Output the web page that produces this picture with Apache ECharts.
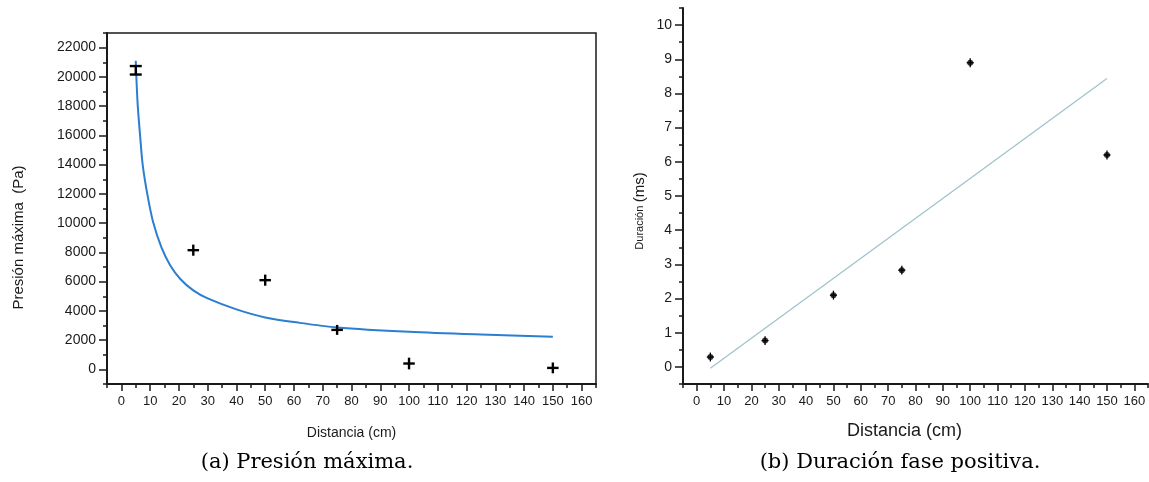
<!DOCTYPE html>
<html>
<head>
<meta charset="utf-8">
<title>Presión y duración</title>
<script src="https://cdn.jsdelivr.net/npm/echarts@6/dist/echarts.min.js"></script>
<style>
  html, body { margin: 0; padding: 0; background: #fff; }
  #chart { width: 1149px; height: 482px; }
</style>
</head>
<body>
<div id="chart"></div>
<script type="text/javascript">
// (a) presión máxima: medidas y errores
var presX = [5, 25, 50, 75, 100, 150];
var presY = [20450, 8150, 6100, 2700, 400, 100];
var presErrX = [0, 2, 2, 2, 2, 2];
var presErrY = [290, 380, 380, 340, 400, 370];
// curva de ajuste
var fitPresX = [5, 5.2, 5.7, 6.5, 7.4, 9, 11, 14, 17, 20.4, 25, 30, 40, 50, 62, 75, 100, 125, 150];
var fitPresY = [21100, 20000, 18000, 16000, 14000, 12000, 10100, 8300, 7100, 6200, 5400, 4850, 4100, 3550, 3180, 2870, 2570, 2380, 2230];

// (b) duración fase positiva
var durX = [5, 25, 50, 75, 100, 150];
var durY = [0.29, 0.77, 2.1, 2.83, 8.9, 6.2];
var durErrX = [1.3, 1.3, 1.3, 1.3, 1.3, 1.3];
var durErrY = [0.13, 0.13, 0.13, 0.13, 0.13, 0.13];
var fitDurX = [5, 150];
var fitDurY = [-0.04, 8.44];

// ticks
var distTicks = [0, 10, 20, 30, 40, 50, 60, 70, 80, 90, 100, 110, 120, 130, 140, 150, 160];
var presTicks = [0, 2000, 4000, 6000, 8000, 10000, 12000, 14000, 16000, 18000, 20000, 22000];
var durTicks = [0, 1, 2, 3, 4, 5, 6, 7, 8, 9, 10];

function minors(t){
  var step = t[1] - t[0], out = [t[0] - step / 2];
  for (var i = 0; i < t.length; i++) out.push(t[i] + step / 2);
  return out;
}
function pairs(a, b){ return a.map(function(v, i){ return [v, b[i]]; }); }
function quads(a, b, c, d){ return a.map(function(v, i){ return [v, b[i], c[i], d[i]]; }); }

var ink = '#1a1a1a';
var font = 'Liberation Sans, Arial, sans-serif';

// main axis: line + labels
function mainAxis(kind, grid, t, min, max, fs){
  return {type:'value', gridIndex:grid, min:min, max:max, position:kind == 'x' ? 'bottom' : 'left',
    axisLine:{show:true, onZero:false, lineStyle:{color:ink, width:2}},
    axisTick:{show:false},
    axisLabel:{customValues:t, margin:11, color:ink, fontSize:fs, fontFamily:font,
      formatter:function(v){ return String(v); }},
    splitLine:{show:false}};
}
// tick-only overlay
function tickAxis(kind, grid, vals, min, max, len){
  return {type:'value', gridIndex:grid, min:min, max:max, position:kind == 'x' ? 'bottom' : 'left',
    axisLine:{show:false, onZero:false}, axisLabel:{show:false}, splitLine:{show:false},
    axisTick:{show:true, customValues:vals, length:len, lineStyle:{color:ink, width:1.5}}};
}

function errBars(lw, capW){
  return function(params, api){
    var x = api.value(0), y = api.value(1), dx = api.value(2), dy = api.value(3);
    var top = api.coord([x, y + dy]), bot = api.coord([x, y - dy]);
    var st = {stroke:'#000', lineWidth:lw};
    var kids = [{type:'line', shape:{x1:top[0], y1:top[1], x2:bot[0], y2:bot[1]}, style:st}];
    if (dx > 0) {
      var l = api.coord([x - dx, y]), r = api.coord([x + dx, y]);
      kids.push({type:'line', shape:{x1:l[0], y1:l[1], x2:r[0], y2:r[1]}, style:st});
    } else {
      kids.push({type:'line', shape:{x1:top[0]-capW, y1:top[1], x2:top[0]+capW, y2:top[1]}, style:st});
      kids.push({type:'line', shape:{x1:bot[0]-capW, y1:bot[1], x2:bot[0]+capW, y2:bot[1]}, style:st});
    }
    return {type:'group', children:kids};
  };
}

var xa0 = mainAxis('x', 0, distTicks, -5, 165, 13);
xa0.name = 'Distancia (cm)';
xa0.nameLocation = 'middle';
xa0.nameGap = 42;
xa0.nameTextStyle = {color:ink, fontSize:14, fontFamily:font};

var ya0 = mainAxis('y', 0, presTicks, -1000, 23000, 14);
ya0.name = 'Presión máxima  (Pa)';
ya0.nameLocation = 'middle';
ya0.nameGap = 81;
ya0.nameTextStyle = {color:ink, fontSize:15, fontFamily:font, padding:[0, 58, 0, 0]};

var xa1 = mainAxis('x', 1, distTicks, -5, 165, 13);
xa1.name = 'Distancia (cm)';
xa1.nameLocation = 'middle';
xa1.nameGap = 38;
xa1.nameTextStyle = {color:ink, fontSize:18, fontFamily:font, padding:[0, 22, 0, 0]};

var ya1 = mainAxis('y', 1, durTicks, -0.5, 10.5, 14);
ya1.name = '{a|Duración} {b|(ms)}';
ya1.nameLocation = 'middle';
ya1.nameGap = 36;
ya1.nameTextStyle = {color:ink, fontFamily:font, padding:[0, 30, 0, 0],
  rich:{a:{fontSize:11, fontFamily:font, color:ink}, b:{fontSize:15, fontFamily:font, color:ink}}};

var chart = echarts.init(document.getElementById('chart'));
var option = {
  animation:false,
  backgroundColor:'#fff',
  grid:[
    {left:107, right:553, top:33, bottom:98, show:true, borderColor:ink, borderWidth:1.5, backgroundColor:'transparent'},
    {left:683, right:1, top:8, bottom:98}
  ],
  xAxis:[
    xa0,
    tickAxis('x', 0, distTicks, -5, 165, 7),
    tickAxis('x', 0, minors(distTicks), -5, 165, 4),
    xa1,
    tickAxis('x', 1, distTicks, -5, 165, 7),
    tickAxis('x', 1, minors(distTicks), -5, 165, 4)
  ],
  yAxis:[
    ya0,
    tickAxis('y', 0, presTicks, -1000, 23000, 8),
    tickAxis('y', 0, minors(presTicks), -1000, 23000, 4),
    ya1,
    tickAxis('y', 1, durTicks, -0.5, 10.5, 8),
    tickAxis('y', 1, minors(durTicks), -0.5, 10.5, 4)
  ],
  series:[
    {type:'line', xAxisIndex:0, yAxisIndex:0, data:pairs(fitPresX, fitPresY), smooth:0.3,
      showSymbol:false, lineStyle:{color:'#2a7fd2', width:2}, z:2},
    {type:'custom', xAxisIndex:0, yAxisIndex:0, data:quads(presX, presY, presErrX, presErrY),
      encode:{x:0, y:1}, renderItem:errBars(2.4, 6), z:3},
    {type:'line', xAxisIndex:3, yAxisIndex:3, data:pairs(fitDurX, fitDurY),
      showSymbol:false, lineStyle:{color:'#9cc3c9', width:1.2}, z:2},
    {type:'custom', xAxisIndex:3, yAxisIndex:3, data:quads(durX, durY, durErrX, durErrY),
      encode:{x:0, y:1}, renderItem:errBars(1.3, 3), z:3},
    {type:'scatter', xAxisIndex:3, yAxisIndex:3, data:pairs(durX, durY), symbol:'circle',
      symbolSize:6, itemStyle:{color:'#000'}, z:4}
  ],
  graphic:[
    {type:'text', x:307, y:463, style:{text:'(a) Presión máxima.', font:'21px "DejaVu Serif", serif',
      fill:'#000', align:'center', verticalAlign:'middle'}},
    {type:'text', x:900, y:463, style:{text:'(b) Duración fase positiva.', font:'21px "DejaVu Serif", serif',
      fill:'#000', align:'center', verticalAlign:'middle'}}
  ]
};
chart.setOption(option);
</script>
</body>
</html>
